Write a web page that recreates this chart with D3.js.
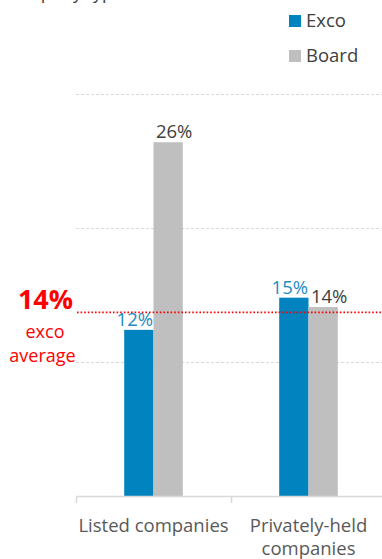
<!DOCTYPE html>
<html>
<head>
<meta charset="utf-8">
<script src="https://cdn.jsdelivr.net/npm/d3@7"></script>
<style>
  html, body { margin: 0; padding: 0; background: #fff; }
  svg { display: block; font-family: "Open Sans", sans-serif; }
</style>
</head>
<body>
<svg id="chart" width="382" height="559"></svg>
<script>
// Share of women by company type
const categories = ["Listed companies", "Privately-held companies"];
const categoryLines = [["Listed companies"], ["Privately-held", "companies"]];
const seriesNames = ["Exco", "Board"];
const excoValues = [12.4, 14.8];
const boardValues = [26.4, 14.1];
const excoAverage = 13.7;
const gridTicks = [10, 20, 30];

const colors = { Exco: "#0083BE", Board: "#BFBFBF" };
const labelColors = { Exco: "#1E8BC3", Board: "#404040" };
const labelShift = { Exco: -4, Board: 6 };

const svg = d3.select("#chart");

const x = d3.scaleBand().domain(categories).range([76, 386]).padding(0);
const y = d3.scaleLinear().domain([0, 30]).range([496, 94]);
const barW = 29.3;
const inner = d3.scaleBand().domain(seriesNames).range([-barW, barW]).padding(0);

// Title (runs off the top edge)
svg.append("text")
  .attr("x", 2).attr("y", -1)
  .attr("font-size", 18).attr("fill", "#404040")
  .text("Company type");

// Gridlines
svg.append("g").selectAll("line").data(gridTicks).join("line")
  .attr("x1", 76).attr("x2", 382)
  .attr("y1", d => Math.round(y(d)) + 0.5).attr("y2", d => Math.round(y(d)) + 0.5)
  .attr("stroke", "#d9d9d9").attr("stroke-width", 1)
  .attr("stroke-dasharray", "3,2");

// Bars
const data = [];
categories.forEach((c, i) => {
  data.push({ cat: c, s: "Exco", v: excoValues[i] });
  data.push({ cat: c, s: "Board", v: boardValues[i] });
});

const barsG = svg.append("g");
barsG.selectAll("rect").data(data).join("rect")
  .attr("x", d => x(d.cat) + x.bandwidth() / 2 + inner(d.s))
  .attr("width", inner.bandwidth())
  .attr("y", d => y(d.v))
  .attr("height", d => y(0) - y(d.v))
  .attr("fill", d => colors[d.s]);

// Value labels
const fmt = d => d3.format(".0f")(d) + "%";
barsG.selectAll("text").data(data).join("text")
  .attr("x", d => x(d.cat) + x.bandwidth() / 2 + inner(d.s) + inner.bandwidth() / 2 + labelShift[d.s])
  .attr("y", d => y(d.v) - 4)
  .attr("text-anchor", "middle")
  .attr("font-size", 18.5)
  .attr("fill", d => labelColors[d.s])
  .text(d => fmt(d.v));

// Axis baseline with category separators
const axisG = svg.append("g");
axisG.append("line")
  .attr("x1", 76).attr("x2", 382)
  .attr("y1", 496.5).attr("y2", 496.5)
  .attr("stroke", "#d9d9d9").attr("stroke-width", 1.5);
axisG.selectAll("line.tick").data(categories).join("line")
  .attr("class", "tick")
  .attr("x1", d => Math.round(x(d)) + 0.5).attr("x2", d => Math.round(x(d)) + 0.5)
  .attr("y1", 496).attr("y2", 503)
  .attr("stroke", "#d9d9d9").attr("stroke-width", 1.5);

// Category labels, one text per line
categories.forEach((c, i) => {
  categoryLines[i].forEach((line, j) => {
    axisG.append("text")
      .attr("x", x(c) + x.bandwidth() / 2)
      .attr("y", 532 + j * 23)
      .attr("text-anchor", "middle")
      .attr("font-size", 18.5)
      .attr("fill", "#595959")
      .text(line);
  });
});

// Exco average reference line
svg.append("line")
  .attr("x1", 77).attr("x2", 382)
  .attr("y1", y(excoAverage)).attr("y2", y(excoAverage))
  .attr("stroke", "#ff0000").attr("stroke-width", 1.6)
  .attr("stroke-dasharray", "1.6,2");

svg.append("text")
  .attr("x", 45.5).attr("y", 309)
  .attr("text-anchor", "middle")
  .attr("font-size", 27).attr("font-weight", "bold")
  .attr("fill", "#ff0000")
  .text(fmt(excoAverage));
svg.append("text")
  .attr("x", 45).attr("y", 338)
  .attr("text-anchor", "middle")
  .attr("font-size", 18).attr("fill", "#ff0000")
  .text("exco");
svg.append("text")
  .attr("x", 42.5).attr("y", 362)
  .attr("text-anchor", "middle")
  .attr("font-size", 18).attr("fill", "#ff0000")
  .text("average");

// Legend
const legend = svg.append("g");
seriesNames.forEach((s, i) => {
  legend.append("rect")
    .attr("x", 289).attr("y", 15 + i * 35)
    .attr("width", 12).attr("height", 12)
    .attr("fill", colors[s]);
  legend.append("text")
    .attr("x", 306).attr("y", 27 + i * 35)
    .attr("font-size", 18.5).attr("fill", "#404040")
    .text(s);
});
</script>
</body>
</html>
